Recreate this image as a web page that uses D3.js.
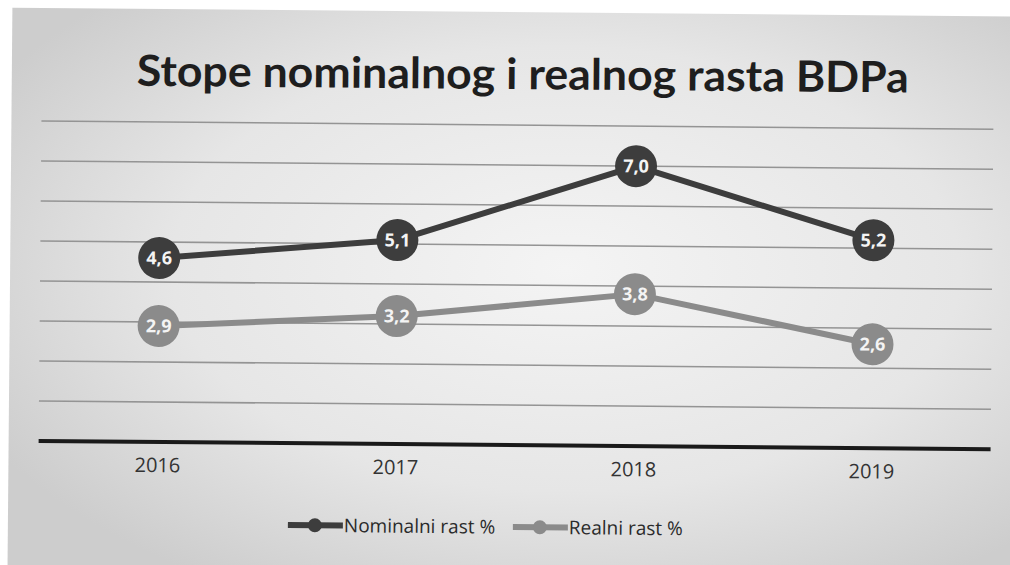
<!DOCTYPE html>
<html>
<head>
<meta charset="utf-8">
<script src="https://cdn.jsdelivr.net/npm/d3@7"></script>
<style>
  html, body { margin: 0; padding: 0; background: #fff; }
  svg { display: block; }
  .title { font-family: Lato, "Open Sans", sans-serif; font-weight: 700; font-size: 43px; fill: #1e1e1e; }
  .x-axis text { font-family: "Open Sans", Lato, sans-serif; font-size: 20px; fill: #333; }
  .bubble-label { font-family: "Open Sans", sans-serif; font-weight: 700; font-size: 18px; fill: #f4f4f4; }
  .legend text { font-family: "Open Sans", Lato, sans-serif; font-size: 19px; fill: #2a2a2a; }
</style>
</head>
<body>
<div class="graphic"></div>
<script>
// data
const years = ["2016", "2017", "2018", "2019"];
const nominalni = [4.6, 5.1, 7.0, 5.2];
const realni = [2.9, 3.2, 3.8, 2.6];
const seriesNames = ["Nominalni rast %", "Realni rast %"];
const yMax = 8;

const width = 1010;
const height = 565;

const svg = d3.select(".graphic").append("svg")
    .attr("width", width)
    .attr("height", height);

// paper / scanned background
const defs = svg.append("defs");
const grad = defs.append("radialGradient")
    .attr("id", "paper")
    .attr("cx", "55%").attr("cy", "45%").attr("r", "65%");
grad.append("stop").attr("offset", "0%").attr("stop-color", "#f4f4f4");
grad.append("stop").attr("offset", "60%").attr("stop-color", "#e6e6e6");
grad.append("stop").attr("offset", "100%").attr("stop-color", "#cdcdcd");

const g = svg.append("g")
    .attr("transform", "rotate(0.5, 505, 285)");

g.append("rect")
    .attr("x", 10)
    .attr("y", 12)
    .attr("width", 1010)
    .attr("height", 570)
    .attr("fill", "url(#paper)");

g.append("text")
    .attr("class", "title")
    .attr("x", 135)
    .attr("y", 89)
    .attr("textLength", 772)
    .attr("lengthAdjust", "spacingAndGlyphs")
    .text("Stope nominalnog i realnog rasta BDPa");

const x = d3.scaleBand()
    .domain(years)
    .range([40, 992]);

const y = d3.scaleLinear()
    .domain([0, yMax])
    .range([445, 125]);

const cx = d => x(d) + x.bandwidth() / 2;

// horizontal gridlines
g.append("g")
    .selectAll("line")
    .data(y.ticks(yMax).filter(d => d > 0))
    .join("line")
    .attr("x1", 40)
    .attr("x2", 992)
    .attr("y1", d => y(d))
    .attr("y2", d => y(d))
    .attr("stroke", "#949494")
    .attr("stroke-width", 1.6);

// baseline
g.append("line")
    .attr("x1", 40)
    .attr("x2", 992)
    .attr("y1", y(0))
    .attr("y2", y(0))
    .attr("stroke", "#1a1a1a")
    .attr("stroke-width", 4);

const xAxis = g.append("g")
    .attr("class", "x-axis")
    .attr("transform", "translate(0," + (y(0) + 10) + ")")
    .call(d3.axisBottom(x).tickSize(0).tickPadding(6));
xAxis.select(".domain").remove();

const comma = v => d3.format(".1f")(v).replace(".", ",");

const series = [
    { name: seriesNames[0], values: nominalni, color: "#3d3d3d" },
    { name: seriesNames[1], values: realni, color: "#8b8b8b" }
];

const line = d3.line()
    .x((d, i) => cx(years[i]))
    .y(d => y(d));

series.forEach(function(s) {
    g.append("path")
        .datum(s.values)
        .attr("d", line)
        .attr("fill", "none")
        .attr("stroke", s.color)
        .attr("stroke-width", 6)
        .attr("stroke-linejoin", "round");

    g.append("g")
        .selectAll("circle")
        .data(s.values)
        .join("circle")
        .attr("cx", (d, i) => cx(years[i]))
        .attr("cy", d => y(d))
        .attr("r", 21)
        .attr("fill", s.color);

    g.append("g")
        .selectAll("text")
        .data(s.values)
        .join("text")
        .attr("class", "bubble-label")
        .attr("x", (d, i) => cx(years[i]))
        .attr("y", d => y(d))
        .attr("dy", "0.35em")
        .attr("text-anchor", "middle")
        .text(d => comma(d));
});

// legend
const legend = g.append("g").attr("class", "legend");
const legendX = [290, 515];
series.forEach(function(s, i) {
    const lx = legendX[i];
    legend.append("line")
        .attr("x1", lx).attr("x2", lx + 55)
        .attr("y1", 527).attr("y2", 527)
        .attr("stroke", s.color)
        .attr("stroke-width", 6);
    legend.append("circle")
        .attr("cx", lx + 27).attr("cy", 527)
        .attr("r", 7)
        .attr("fill", s.color);
    legend.append("text")
        .attr("x", lx + 56)
        .attr("y", 527)
        .attr("dy", "0.35em")
        .text(s.name);
});
</script>
</body>
</html>
